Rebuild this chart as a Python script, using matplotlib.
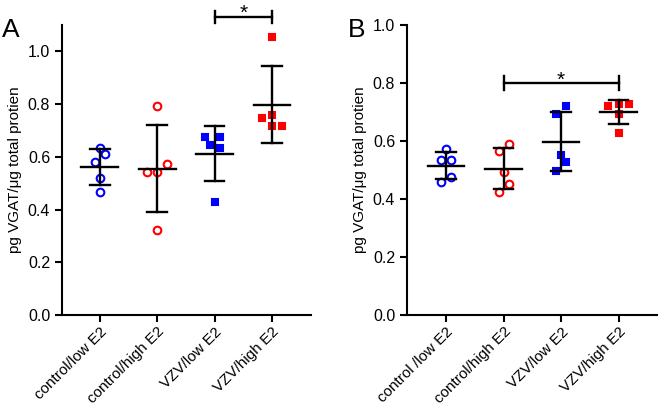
import matplotlib.pyplot as plt
import numpy as np

plt.rcParams['font.family'] = ['Liberation Sans', 'DejaVu Sans']

groups_a = ['control/low E2', 'control/high E2', 'VZV/low E2', 'VZV/high E2']
groups_b = ['control /low E2', 'control/high E2', 'VZV/low E2', 'VZV/high E2']

# panel A points per group
a_ctrl_low = [0.632, 0.609, 0.581, 0.520, 0.465]
a_ctrl_high = [0.793, 0.574, 0.544, 0.541, 0.324]
a_vzv_low = [0.677, 0.677, 0.645, 0.632, 0.428]
a_vzv_high = [1.056, 0.746, 0.757, 0.716, 0.716]
a_jit = [[0, 0.25, -0.25, 0, 0], [0, 0.5, -0.5, 0, 0], [-0.5, 0.25, -0.25, 0.25, 0], [0, -0.5, 0, 0, 0.5]]

# panel B points per group
b_ctrl_low = [0.574, 0.533, 0.533, 0.476, 0.460]
b_ctrl_high = [0.591, 0.564, 0.492, 0.453, 0.424]
b_vzv_low = [0.720, 0.692, 0.552, 0.529, 0.498]
b_vzv_high = [0.720, 0.729, 0.729, 0.694, 0.629]
b_jit = [[0, -0.25, 0.25, 0.25, -0.25], [0.25, -0.25, 0, 0.25, -0.25], [0.25, -0.25, 0, 0.25, -0.25], [-0.5, 0, 0.5, 0, 0]]

colors = ['#0000ff', '#ff0000', '#0000ff', '#ff0000']
markers = ['o', 'o', 's', 's']
filled = [False, False, True, True]

fig = plt.figure(figsize=(6.58, 4.08), dpi=100)
ax_a = fig.add_axes([0.0942, 0.228, 0.3784, 0.7107])
ax_b = fig.add_axes([0.6185, 0.228, 0.3800, 0.7107])


def draw(ax, data, jit, labels, ylim, xlim, yticks):
    for i, vals in enumerate(data):
        vals = np.array(vals)
        xs = i + np.array(jit[i]) * 0.35
        fc = colors[i] if filled[i] else 'none'
        ax.plot(xs, vals, linestyle='none', marker=markers[i], ms=5.5 if markers[i] == 'o' else 4.8,
                mfc=fc, mec=colors[i], mew=1.5, zorder=2)
        m = vals.mean()
        sd = vals.std(ddof=1)
        ax.plot([i - 0.32, i + 0.32], [m, m], color='black', lw=1.7, zorder=3)
        ax.plot([i, i], [m - sd, m + sd], color='black', lw=1.7, zorder=3)
        for v in (m - sd, m + sd):
            ax.plot([i - 0.17, i + 0.17], [v, v], color='black', lw=1.7, zorder=3)
    ax.set_xlim(*xlim)
    ax.set_ylim(*ylim)
    ax.set_yticks(yticks)
    ax.set_yticklabels(['%.1f' % t for t in yticks], fontsize=11.5)
    ax.set_xticks(range(4))
    ax.set_xticklabels(labels, rotation=45, ha='right', rotation_mode='anchor', fontsize=11)
    ax.spines['top'].set_visible(False)
    ax.spines['right'].set_visible(False)
    for s in ('left', 'bottom'):
        ax.spines[s].set_linewidth(1.5)
    ax.tick_params(width=1.5, length=5, direction='out')
    ax.tick_params(axis='x', pad=2)
    ax.set_ylabel('pg VGAT/\u03bcg total protien', fontsize=11)


draw(ax_a, [a_ctrl_low, a_ctrl_high, a_vzv_low, a_vzv_high], a_jit, groups_a,
     (0, 1.10), (-0.66, 3.68), [0, 0.2, 0.4, 0.6, 0.8, 1.0])
draw(ax_b, [b_ctrl_low, b_ctrl_high, b_vzv_low, b_vzv_high], b_jit, groups_b,
     (0, 1.0), (-0.68, 3.67), [0, 0.2, 0.4, 0.6, 0.8, 1.0])

# significance bars
ax_a.plot([2, 3], [1.13, 1.13], color='black', lw=1.7, clip_on=False)
for x in (2, 3):
    ax_a.plot([x, x], [1.107, 1.153], color='black', lw=1.7, clip_on=False)
ax_a.text(2.5, 1.124, '*', ha='center', va='baseline', fontsize=15, clip_on=False)

ax_b.plot([1, 3], [0.8, 0.8], color='black', lw=1.7)
for x in (1, 3):
    ax_b.plot([x, x], [0.777, 0.823], color='black', lw=1.7)
ax_b.text(2, 0.791, '*', ha='center', va='baseline', fontsize=15)

fig.text(0.003, 0.909, 'A', fontsize=19, va='baseline')
fig.text(0.529, 0.909, 'B', fontsize=19, va='baseline')

fig.savefig('out.png', dpi=100)
